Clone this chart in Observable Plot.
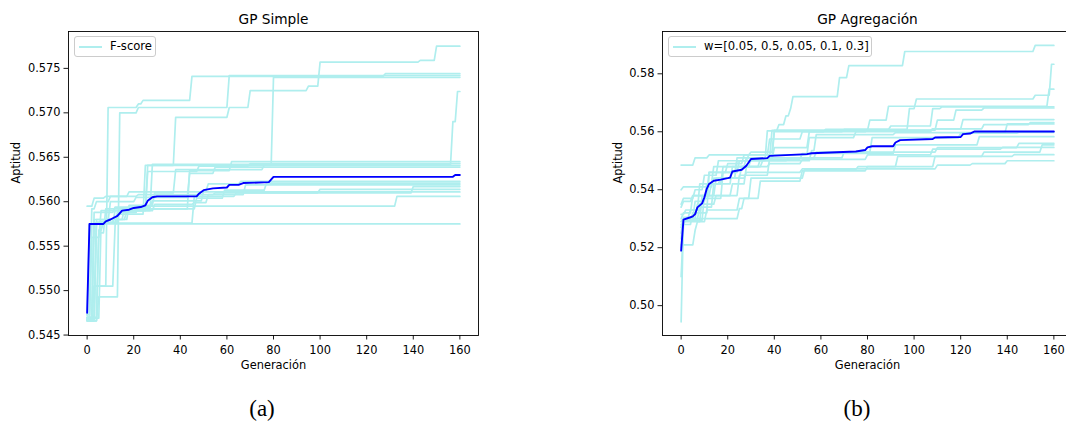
<!DOCTYPE html>
<html><head><meta charset="utf-8">
<script src="https://cdn.jsdelivr.net/npm/d3@7"></script>
<script src="https://cdn.jsdelivr.net/npm/@observablehq/plot@0.6"></script>
<style>
body{margin:0;background:#fff;}
#wrap{position:relative;width:1066px;height:421px;overflow:hidden;background:#fff;font-family:"DejaVu Sans",sans-serif;}
.panel{position:absolute;top:0;}
.legend{position:absolute;box-sizing:border-box;height:21px;top:36px;border:1px solid #cccccc;border-radius:3px;background:rgba(255,255,255,0.8);font-size:11.6px;color:#000;}
.legend .sw{position:absolute;left:4px;top:9px;width:23px;height:1.7px;background:#afeeee;}
.legend .lb{position:absolute;left:35px;top:2px;white-space:nowrap;}
.cap{position:absolute;top:397px;transform:translateX(-50%);font-family:"Liberation Serif",serif;font-size:23px;line-height:1;color:#000;}
</style></head>
<body>
<div id="wrap"></div>
<script>
// ---- data: each run is a list of [generation, best fitness from that generation on] ----
const xTicks = [0, 20, 40, 60, 80, 100, 120, 140, 160];
const leftYTicks = [0.545, 0.550, 0.555, 0.560, 0.565, 0.570, 0.575];
const rightYTicks = [0.50, 0.52, 0.54, 0.56, 0.58];
const leftTitle = "GP Simple";
const rightTitle = "GP Agregación";
const leftLegend = "F-score";
const rightLegend = "w=[0.05, 0.5, 0.05, 0.1, 0.3]";
const xLabel = "Generación";
const yLabel = "Aptitud";

const leftRuns = [
  [[0,0.5467],[3,0.5576],[13,0.5586],[25,0.5641],[38,0.5695],[61,0.5706],[70,0.5725],[95,0.5730],[100,0.5757],[143,0.5759],[150,0.5775]],
  [[0,0.5467],[3,0.5505],[9,0.5706],[22,0.5710],[24,0.5714],[45,0.5741],[128,0.5744]],
  [[0,0.5466],[5,0.5493],[14,0.5700],[22,0.5706],[61,0.5742]],
  [[0,0.5470],[4,0.5576],[12,0.5590],[26,0.5641],[80,0.5740]],
  [[0,0.5468],[3,0.5580],[17,0.5590],[28,0.5642],[157,0.5690],[159,0.5724]],
  [[0,0.5472],[1,0.5575]],
  [[0,0.5468],[2,0.5560],[6,0.5590],[25,0.5592],[44,0.5635],[62,0.5645]],
  [[0,0.5470],[5,0.5565],[8,0.5592],[26,0.5634],[48,0.5640],[70,0.5643]],
  [[0,0.5466],[4,0.5580],[18,0.5596],[29,0.5610],[38,0.5636],[76,0.5641]],
  [[0,0.5469],[6,0.5578],[10,0.5600],[21,0.5605],[44,0.5632],[55,0.5639]],
  [[0,0.5467],[3,0.5588],[12,0.5594],[28,0.5601],[50,0.5612],[52,0.5620],[66,0.5623]],
  [[0,0.5470],[2,0.5575],[9,0.5580],[16,0.5592],[47,0.5604],[59,0.5613],[77,0.5621]],
  [[0,0.5468],[4,0.5577],[14,0.5590],[29,0.5597],[46,0.5599],[52,0.5608],[68,0.5619]],
  [[0,0.5466],[5,0.5568],[7,0.5576],[46,0.5606],[64,0.5610],[140,0.5617]],
  [[0,0.5473],[2,0.5592],[4,0.5600],[10,0.5606],[22,0.5608],[55,0.5610],[100,0.5614]],
  [[0,0.5595],[3,0.5604],[8,0.5606],[18,0.5611]],
  [[0,0.5467],[3,0.5505],[12,0.5573],[13,0.5588],[22,0.5595],[133,0.5606]]
];
const leftMean = [[0,0.5475],[1,0.5575],[7,0.5575],[8,0.5578],[10,0.5580],[13,0.5584],[15,0.5590],[18,0.5591],[20,0.5593],[23,0.5594],[25,0.5596],[26,0.5601],[28,0.5605],[30,0.5606],[47,0.5606],[48,0.5609],[50,0.5613],[54,0.5615],[60,0.5616],[61,0.5619],[65,0.5619],[67,0.5621],[78,0.5622],[80,0.5628],[157,0.5628],[158,0.5630],[160,0.5630]];

const rightRuns = [
  [[0,0.5300],[1,0.5320],[5,0.5380],[12,0.5460],[25,0.5500],[37,0.5603],[42,0.5625],[45,0.5655],[47,0.5680],[48,0.5721],[68,0.5787],[72,0.5828],[96,0.5877],[152,0.5898]],
  [[0,0.5270],[1,0.5300],[8,0.5340],[14,0.5420],[22,0.5480],[30,0.5505],[40,0.5545],[55,0.5600],[62,0.5608],[98,0.5680],[101,0.5713],[152,0.5726],[159,0.5833]],
  [[0,0.5250],[1,0.5300],[6,0.5360],[11,0.5420],[18,0.5480],[28,0.5510],[39,0.5605],[81,0.5640],[89,0.5688],[158,0.5747]],
  [[0,0.5200],[1,0.5290],[9,0.5380],[15,0.5440],[24,0.5510],[40,0.5600],[70,0.5608],[90,0.5620],[108,0.5680],[112,0.5686]],
  [[0,0.5350],[1,0.5370],[6,0.5400],[10,0.5450],[16,0.5500],[29,0.5520],[38,0.5575],[52,0.5600],[80,0.5606],[110,0.5640],[118,0.5675],[130,0.5682]],
  [[0,0.5100],[1,0.5280],[5,0.5320],[12,0.5460],[20,0.5490],[27,0.5520],[55,0.5580],[75,0.5600],[108,0.5610],[121,0.5642]],
  [[0,0.5485],[6,0.5510],[12,0.5520],[30,0.5530],[40,0.5605],[108,0.5610],[130,0.5625],[150,0.5632]],
  [[0,0.4944],[1,0.5305],[4,0.5330],[9,0.5370],[18,0.5460],[24,0.5500],[56,0.5535],[58,0.5590],[92,0.5597],[140,0.5627]],
  [[0,0.5290],[1,0.5300],[7,0.5350],[15,0.5380],[25,0.5450],[38,0.5510],[58,0.5530],[82,0.5580],[120,0.5595],[145,0.5598]],
  [[0,0.5230],[1,0.5295],[10,0.5380],[22,0.5420],[28,0.5480],[34,0.5505],[52,0.5525],[92,0.5555],[128,0.5583]],
  [[0,0.5315],[2,0.5330],[8,0.5420],[14,0.5480],[35,0.5500],[46,0.5510],[70,0.5530],[110,0.5545],[145,0.5560]],
  [[0,0.5210],[6,0.5260],[7,0.5290],[11,0.5330],[25,0.5370],[30,0.5440],[53,0.5470],[76,0.5480],[93,0.5515],[130,0.5530],[155,0.5555]],
  [[0,0.5340],[1,0.5360],[5,0.5380],[13,0.5420],[17,0.5440],[26,0.5480],[38,0.5490],[52,0.5505],[80,0.5520],[108,0.5540],[138,0.5546]],
  [[0,0.5280],[2,0.5300],[25,0.5335],[27,0.5370],[34,0.5430],[52,0.5465],[80,0.5480],[109,0.5515],[143,0.5521]],
  [[0,0.5400],[1,0.5410],[14,0.5440],[28,0.5460],[52,0.5472],[110,0.5485],[125,0.5490],[140,0.5500]]
];
const rightMean = [[0,0.5190],[1,0.5297],[4,0.5305],[5,0.5308],[6,0.5316],[7,0.5339],[9,0.5353],[10,0.5374],[11,0.5403],[12,0.5420],[14,0.5431],[17,0.5435],[20,0.5440],[21,0.5442],[22,0.5463],[26,0.5469],[28,0.5483],[30,0.5506],[37,0.5509],[38,0.5517],[54,0.5523],[56,0.5526],[75,0.5532],[79,0.5537],[80,0.5546],[82,0.5550],[91,0.5550],[92,0.5563],[94,0.5571],[108,0.5575],[109,0.5580],[120,0.5582],[121,0.5592],[124,0.5594],[126,0.5601],[160,0.5601]];

// ---- rendering ----
const lastGen = xTicks[xTicks.length - 1];
function expand(run) {
  const pts = [];
  let prev = null;
  for (const [g, v] of run) {
    if (prev !== null && g - 1 > pts[pts.length - 1][0]) pts.push([g - 1, prev]);
    pts.push([g, v]);
    prev = v;
  }
  if (pts[pts.length - 1][0] < lastGen) pts.push([lastGen, prev]);
  return pts;
}

function panel(runs, mean, yDomain, yTicks, yFmt, title, ylabDx) {
  const rows = runs.flatMap((r, i) => expand(r).map(([g, v]) => ({run: i, g, v})));
  const meanRows = mean.map(([g, v]) => ({g, v}));
  return Plot.plot({
    width: 530, height: 380,
    marginLeft: 68, marginRight: 52, marginTop: 31, marginBottom: 45,
    style: {fontFamily: "DejaVu Sans", fontSize: "11.4px", color: "#000", background: "transparent", overflow: "visible"},
    x: {domain: [-8, 168]},
    y: {domain: yDomain},
    marks: [
      Plot.line(rows, {x: "g", y: "v", z: "run", stroke: "#afeeee", strokeWidth: 1.7}),
      Plot.line(meanRows, {x: "g", y: "v", stroke: "#0000ff", strokeWidth: 1.9}),
      Plot.frame({stroke: "#000", strokeWidth: 0.9}),
      Plot.axisX({ticks: xTicks, tickSize: 4.5, tickPadding: 6, label: null, strokeWidth: 0.9}),
      Plot.axisY({ticks: yTicks, tickFormat: yFmt, tickSize: 4.5, tickPadding: 3.5, label: null, strokeWidth: 0.9}),
      Plot.text([title], {text: d => d, frameAnchor: "top", dy: -12, fontSize: 13.7, lineAnchor: "middle"}),
      Plot.text([xLabel], {text: d => d, frameAnchor: "bottom", dy: 30, lineAnchor: "middle"}),
      Plot.text([yLabel], {text: d => d, frameAnchor: "left", dx: ylabDx, rotate: -90, lineAnchor: "middle"})
    ]
  });
}

const wrap = document.getElementById("wrap");
function place(el, left) { el.classList.add("panel"); el.style.left = left + "px"; wrap.appendChild(el); }
place(panel(leftRuns, leftMean, [0.54495, 0.57915], leftYTicks, d3.format(".3f"), leftTitle, -52), 0);
place(panel(rightRuns, rightMean, [0.4897, 0.5946], rightYTicks, d3.format(".2f"), rightTitle, -44), 594);

function legend(left, width, label) {
  const d = document.createElement("div");
  d.className = "legend";
  d.style.left = left + "px";
  d.style.width = width + "px";
  d.innerHTML = '<div class="sw"></div><div class="lb"></div>';
  d.querySelector(".lb").textContent = label;
  wrap.appendChild(d);
}
legend(74, 82, leftLegend);
legend(668, 204, rightLegend);

function caption(x, t) {
  const d = document.createElement("div");
  d.className = "cap";
  d.style.left = x + "px";
  d.textContent = t;
  wrap.appendChild(d);
}
caption(262, "(a)");
caption(857, "(b)");
</script>
</body></html>
